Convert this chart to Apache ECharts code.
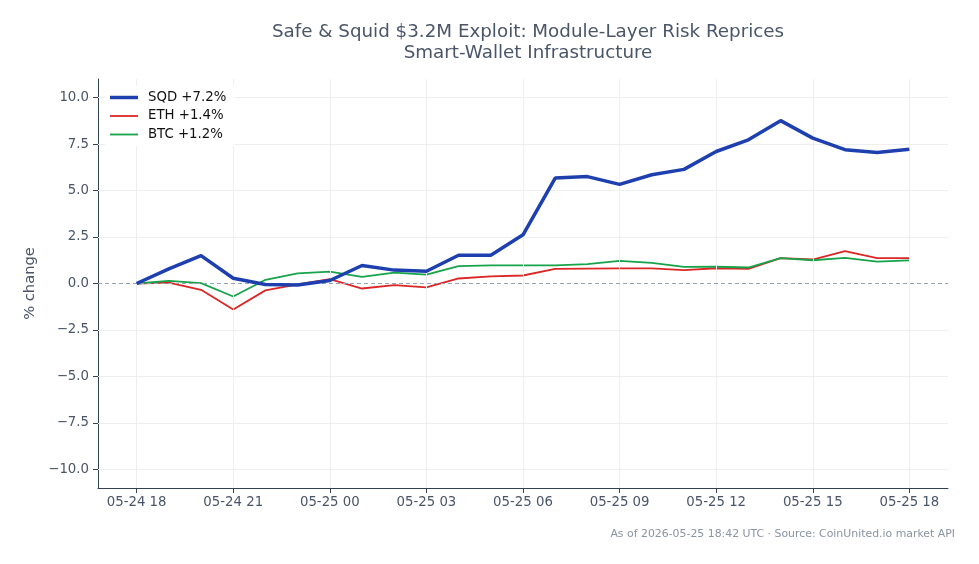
<!DOCTYPE html>
<html>
<head>
<meta charset="utf-8">
<title>Safe & Squid exploit chart</title>
<script src="https://cdn.jsdelivr.net/npm/echarts@6/dist/echarts.min.js"></script>
<style>
    html, body { margin: 0; padding: 0; background: #fff; }
    #chart { width: 979px; height: 564px; }
</style>
</head>
<body>
<div id="chart"></div>
<script>
// Hourly timestamps (UTC)
const times = [
    '2026-05-24 18:00', '2026-05-24 19:00', '2026-05-24 20:00', '2026-05-24 21:00',
    '2026-05-24 22:00', '2026-05-24 23:00', '2026-05-25 00:00', '2026-05-25 01:00',
    '2026-05-25 02:00', '2026-05-25 03:00', '2026-05-25 04:00', '2026-05-25 05:00',
    '2026-05-25 06:00', '2026-05-25 07:00', '2026-05-25 08:00', '2026-05-25 09:00',
    '2026-05-25 10:00', '2026-05-25 11:00', '2026-05-25 12:00', '2026-05-25 13:00',
    '2026-05-25 14:00', '2026-05-25 15:00', '2026-05-25 16:00', '2026-05-25 17:00',
    '2026-05-25 18:00'
];

// % change since start
const sqd = [0, 0.79, 1.5, 0.28, -0.05, -0.08, 0.16, 0.97, 0.72, 0.66, 1.52, 1.52, 2.62,
    5.67, 5.75, 5.33, 5.85, 6.14, 7.1, 7.73, 8.76, 7.82, 7.2, 7.05, 7.22];
const eth = [0, 0.05, -0.34, -1.4, -0.37, -0.05, 0.23, -0.27, -0.09, -0.21, 0.27, 0.38, 0.43,
    0.79, 0.8, 0.81, 0.81, 0.72, 0.82, 0.79, 1.36, 1.29, 1.74, 1.36, 1.36];
const btc = [0, 0.14, 0.02, -0.7, 0.2, 0.54, 0.64, 0.36, 0.59, 0.48, 0.93, 0.97, 0.98,
    0.98, 1.04, 1.22, 1.11, 0.89, 0.9, 0.86, 1.36, 1.25, 1.38, 1.18, 1.24];

// axis ticks
const xTicks = [
    '2026-05-24 18:00', '2026-05-24 21:00', '2026-05-25 00:00', '2026-05-25 03:00',
    '2026-05-25 06:00', '2026-05-25 09:00', '2026-05-25 12:00', '2026-05-25 15:00',
    '2026-05-25 18:00'
];
const yTicks = [-10, -7.5, -5, -2.5, 0, 2.5, 5, 7.5, 10];

const TEXT = '#4a5568';
const AXIS = '#334155';
const GRID = '#eceef2';
const FONT = 'DejaVu Sans';

const SQD_COLOR = '#1e40af';
const ETH_COLOR = '#dc2626';
const BTC_COLOR = '#16a34a';

function toMs(s) {
    return new Date(s.replace(' ', 'T')).getTime();
}

function pairs(vals) {
    return times.map((t, i) => [toMs(t), vals[i]]);
}

function lastLabel(name, vals) {
    const v = vals[vals.length - 1];
    return name + ' ' + (v >= 0 ? '+' : '') + v.toFixed(1) + '%';
}

// flat bar used as legend swatch, thickness matches the line width
function swatch(name, width, color) {
    return {
        name: name,
        icon: 'path://M0,0H28V' + width + 'H0Z',
        itemStyle: { color: color, borderWidth: 0 }
    };
}

const chart = echarts.init(document.getElementById('chart'));

const t0 = toMs(times[0]);
const t1 = toMs(times[times.length - 1]);
const pad = (t1 - t0) * 0.05;
const xTickMs = xTicks.map(toMs);

function lineSeries(name, vals, color, width, z) {
    return {
        name: lastLabel(name, vals),
        type: 'line',
        data: pairs(vals),
        symbol: 'none',
        showSymbol: false,
        z: z,
        lineStyle: { color: color, width: width },
        itemStyle: { color: color }
    };
}

const option = {
    animation: false,
    textStyle: { fontFamily: FONT },
    title: [{
        text: 'Safe & Squid $3.2M Exploit: Module-Layer Risk Reprices\nSmart-Wallet Infrastructure',
        left: 523,
        top: 17,
        textAlign: 'center',
        textStyle: { color: TEXT, fontSize: 18.3, fontWeight: 'normal', lineHeight: 21, fontFamily: FONT }
    }, {
        text: 'As of 2026-05-25 18:42 UTC · Source: CoinUnited.io market API',
        right: 19,
        top: 524,
        textStyle: { color: '#8a94a3', fontSize: 10.9, fontWeight: 'normal', fontFamily: FONT }
    }],
    legend: {
        orient: 'vertical',
        left: 105,
        top: 86,
        z: 10,
        padding: [5, 8, 5, 5],
        backgroundColor: '#ffffff',
        itemWidth: 28,
        itemHeight: 14,
        itemGap: 5.5,
        symbolKeepAspect: true,
        itemStyle: { borderWidth: 0 },
        textStyle: { color: '#111', fontSize: 13.3, fontFamily: FONT, padding: [0, 0, 0, 5] },
        data: [
            swatch(lastLabel('SQD', sqd), 3.5, SQD_COLOR),
            swatch(lastLabel('ETH', eth), 1.8, ETH_COLOR),
            swatch(lastLabel('BTC', btc), 1.8, BTC_COLOR)
        ]
    },
    grid: { left: 98, right: 31, top: 79, bottom: 76 },
    xAxis: {
        type: 'time',
        min: t0 - pad,
        max: t1 + pad,
        axisLine: { onZero: false, lineStyle: { color: AXIS, width: 1 } },
        axisTick: { length: 5, lineStyle: { color: AXIS }, customValues: xTickMs },
        axisLabel: {
            color: TEXT, fontSize: 13.3, fontFamily: FONT, margin: 8,
            customValues: xTickMs,
            formatter: '{MM}-{dd} {HH}'
        },
        splitLine: { show: false }
    },
    yAxis: {
        type: 'value',
        min: -11,
        max: 11,
        name: '% change',
        nameLocation: 'middle',
        nameGap: 60,
        nameTextStyle: { color: TEXT, fontSize: 14.7, fontFamily: FONT },
        axisLine: { show: true, lineStyle: { color: AXIS, width: 1 } },
        axisTick: { show: true, length: 5, lineStyle: { color: AXIS }, customValues: yTicks },
        axisLabel: {
            color: TEXT, fontSize: 13.3, fontFamily: FONT, margin: 9,
            customValues: yTicks,
            formatter: v => (v < 0 ? '\u2212' : '') + Math.abs(v).toFixed(1)
        },
        splitLine: { show: false }
    },
    series: [{
        // light grid lines and dashed zero reference
        name: 'grid',
        type: 'line',
        data: [],
        silent: true,
        z: 0,
        markLine: {
            silent: true,
            symbol: 'none',
            label: { show: false },
            lineStyle: { color: GRID, width: 1, type: 'solid' },
            data: yTicks.filter(v => v !== 0).map(v => ({ yAxis: v }))
                .concat(xTickMs.map(v => ({ xAxis: v })))
                .concat([{ yAxis: 0, lineStyle: { color: '#94a3b8', type: [4, 3], width: 1 } }])
        }
    },
        lineSeries('SQD', sqd, SQD_COLOR, 3.5, 5),
        lineSeries('ETH', eth, ETH_COLOR, 1.8, 3),
        lineSeries('BTC', btc, BTC_COLOR, 1.8, 4)
    ]
};

chart.setOption(option);
</script>
</body>
</html>
